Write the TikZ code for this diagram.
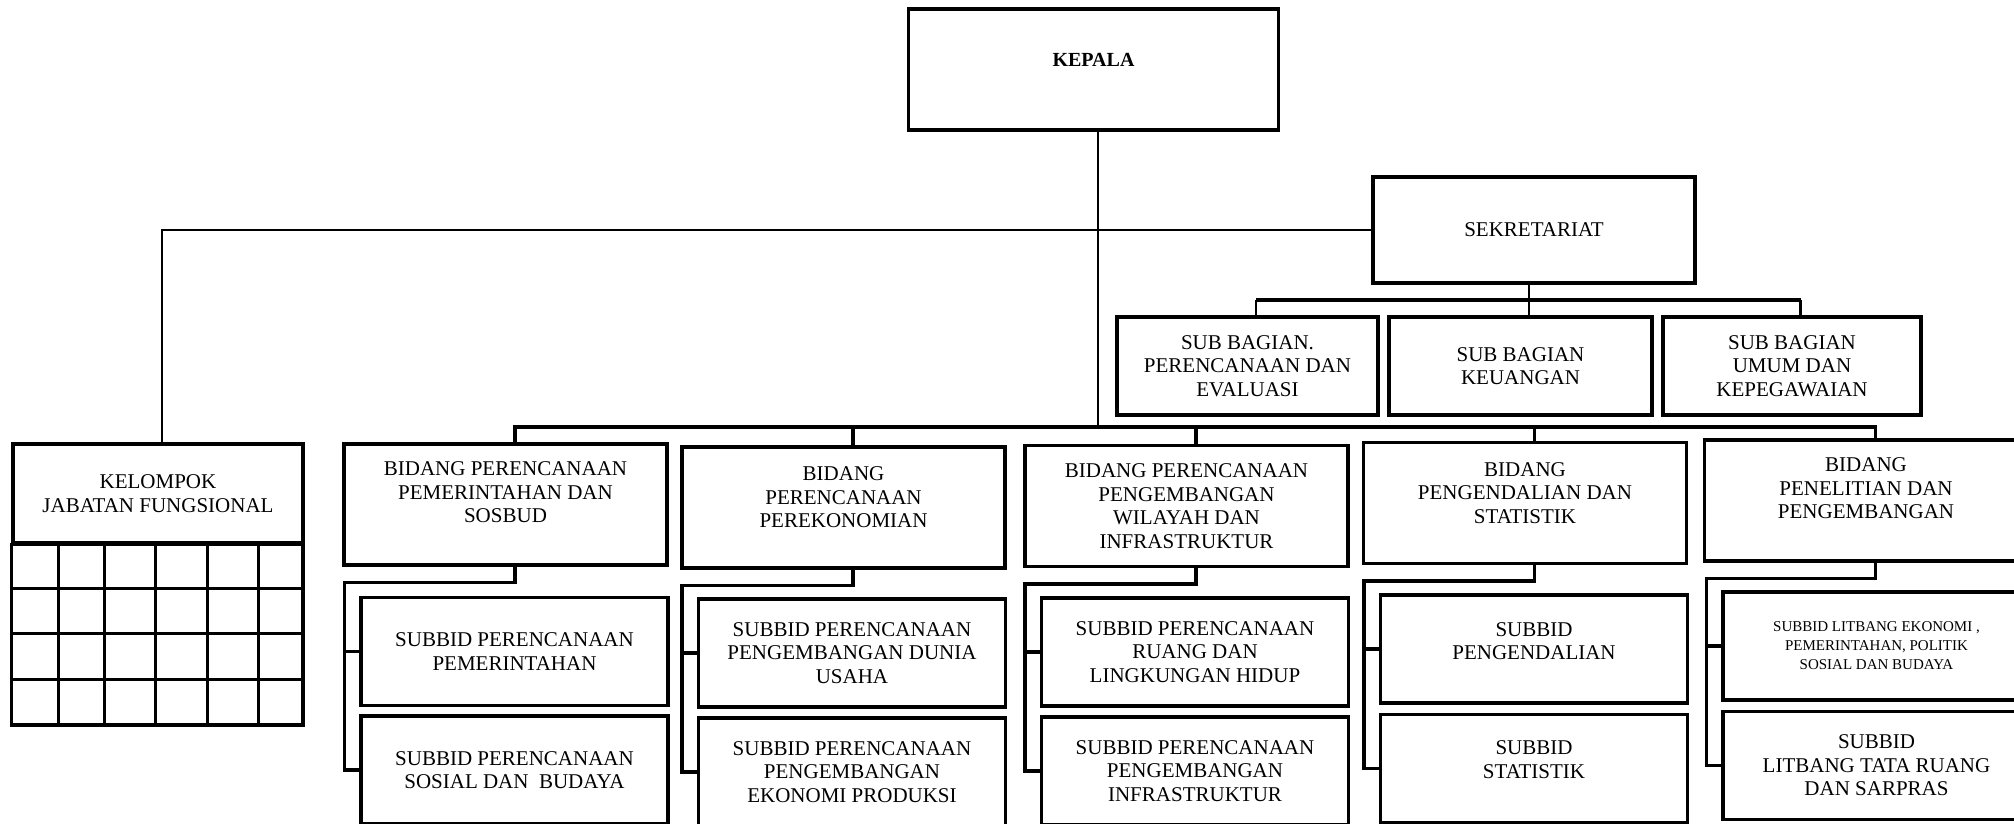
\documentclass[tikz,border=0pt]{standalone}
\usepackage{fontspec}
\setmainfont{Liberation Serif}

\begin{document}
\begin{tikzpicture}[
  x=1pt, y=-1pt,
  every node/.style={font=\fontsize{21}{23.5}\selectfont, align=center},
  unit/.style={rectangle, draw, line width=3.2pt, inner sep=0pt},
  bidang/.style={unit, minimum width=323pt, minimum height=121pt},
  subbid/.style={unit, minimum width=307pt, minimum height=108pt},
  subbag/.style={unit, minimum height=98pt},
  lift/.style={text depth=#1},
  link/.style={line width=2.8pt},
  bus/.style={line width=3.6pt}
]
\useasboundingbox (0,0) rectangle (2014,824);

% pimpinan dan sekretariat
\node[unit, minimum width=370pt, minimum height=121pt, lift=19pt,
  font=\fontsize{20}{22}\selectfont\bfseries] (kepala) at (1093.5,69.5) {KEPALA};
\node[unit, minimum width=322pt, minimum height=106pt] (sekretariat) at (1534,230) {SEKRETARIAT};

\node[subbag, minimum width=261pt] (sbren) at (1247.5,366) {SUB BAGIAN.\\PERENCANAAN DAN\\EVALUASI};
\node[subbag, minimum width=263pt] (sbkeu) at (1520.5,366) {SUB BAGIAN\\KEUANGAN};
\node[subbag, minimum width=258pt] (sbumum) at (1792,366) {SUB BAGIAN\\UMUM DAN\\KEPEGAWAIAN};

% kelompok jabatan fungsional
\node[unit, minimum width=290pt, minimum height=99pt] (kelompok) at (158,493.5) {KELOMPOK\\JABATAN FUNGSIONAL};
\draw[unit] (kelompok.south west) rectangle (303,725);
\foreach \y in {588,633,679}
  \draw[line width=3pt] (13,\y) -- (303,\y);
\foreach \x in {58,104,155,207,258}
  \draw[line width=3pt] (\x,543) -- (\x,725);

% bidang
\node[bidang, lift=24pt] (bpem) at (505.5,504.5) {BIDANG PERENCANAAN\\PEMERINTAHAN DAN\\SOSBUD};
\node[bidang, lift=20pt] (beko) at (843.5,507.5) {BIDANG\\PERENCANAAN\\PEREKONOMIAN};
\node[bidang] (bwil) at (1186.5,506) {BIDANG PERENCANAAN\\PENGEMBANGAN\\WILAYAH DAN\\INFRASTRUKTUR};
\node[bidang, lift=20pt] (bdal) at (1525,503) {BIDANG\\PENGENDALIAN DAN\\STATISTIK};
\node[bidang, lift=24pt] (blit) at (1866,500.5) {BIDANG\\PENELITIAN DAN\\PENGEMBANGAN};

% subbidang
\node[subbid] (spem) at (514.5,651.5) {SUBBID PERENCANAAN\\PEMERINTAHAN};
\node[subbid] (ssos) at (514.5,770) {SUBBID PERENCANAAN\\SOSIAL DAN\ \ BUDAYA};
\node[subbid] (susaha) at (852,653) {SUBBID PERENCANAAN\\PENGEMBANGAN DUNIA\\USAHA};
\node[subbid] (sprod) at (852,772) {SUBBID PERENCANAAN\\PENGEMBANGAN\\EKONOMI PRODUKSI};
\node[subbid] (sruang) at (1195,652) {SUBBID PERENCANAAN\\RUANG DAN\\LINGKUNGAN HIDUP};
\node[subbid] (sinfra) at (1195,771) {SUBBID PERENCANAAN\\PENGEMBANGAN\\INFRASTRUKTUR};
\node[subbid, lift=16pt] (sdal) at (1534,649) {SUBBID\\PENGENDALIAN};
\node[subbid, lift=18pt] (sstat) at (1534,768.5) {SUBBID\\STATISTIK};
\node[subbid, font=\fontsize{15}{19}\selectfont] (seko) at (1876.5,646) {SUBBID LITBANG EKONOMI ,\\PEMERINTAHAN, POLITIK\\SOSIAL DAN BUDAYA};
\node[subbid] (stata) at (1876.5,765.5) {SUBBID\\LITBANG TATA RUANG\\DAN SARPRAS};

% titik sambung
\coordinate (kp) at ([xshift=4.5pt]kepala.south);
\coordinate (kf) at ([xshift=4pt]kelompok.north);
\coordinate (bidbus) at (kp |- 0,427);
\coordinate (sekbus) at ([xshift=-5pt]sekretariat.south |- 0,300);
\foreach \b in {bpem,beko,bwil,bdal,blit} {
  \coordinate (\b-top) at ([xshift=9.5pt]\b.north);
  \coordinate (\b-foot) at ([xshift=9.5pt]\b.south);
}
\foreach \b in {sbren,sbkeu,sbumum}
  \coordinate (\b-top) at ([xshift=8.5pt]\b.north);

% garis komando
\draw[link] (kp) -- (bidbus);
\draw[link] (kf) |- (sekretariat.west);

\draw[link] ([xshift=-5pt]sekretariat.south) -- (sekbus);
\draw[bus] (sbren-top |- sekbus) -- (sbumum-top |- sekbus);
\draw[link] (sbren-top) -- (sbren-top |- sekbus);
\draw[link] (sbkeu-top) -- (sbkeu-top |- sekbus);
\draw[link] (sbumum-top) -- (sbumum-top |- sekbus);

\draw[bus] (bpem-top) |- (bidbus) -| (blit-top);
\draw[bus] (beko-top) -- (beko-top |- bidbus);
\draw[bus] (bwil-top) -- (bwil-top |- bidbus);
\draw[bus] (bdal-top) -- (bdal-top |- bidbus);

% garis subbidang
\draw[bus] (bpem-foot) -- ++(0,16) -| ([xshift=-15pt]ssos.west) -- (ssos.west);
\draw[bus] ([xshift=-15pt]spem.west) -- (spem.west);
\draw[bus] (beko-foot) -- ++(0,16) -| ([xshift=-15pt]sprod.west) -- (sprod.west);
\draw[bus] ([xshift=-15pt]susaha.west) -- (susaha.west);
\draw[bus] (bwil-foot) -- ++(0,16) -| ([xshift=-15pt]sinfra.west) -- (sinfra.west);
\draw[bus] ([xshift=-15pt]sruang.west) -- (sruang.west);
\draw[bus] (bdal-foot) -- ++(0,16) -| ([xshift=-15pt]sstat.west) -- (sstat.west);
\draw[bus] ([xshift=-15pt]sdal.west) -- (sdal.west);
\draw[bus] (blit-foot) -- ++(0,16) -| ([xshift=-15pt]stata.west) -- (stata.west);
\draw[bus] ([xshift=-15pt]seko.west) -- (seko.west);
\end{tikzpicture}
\end{document}
